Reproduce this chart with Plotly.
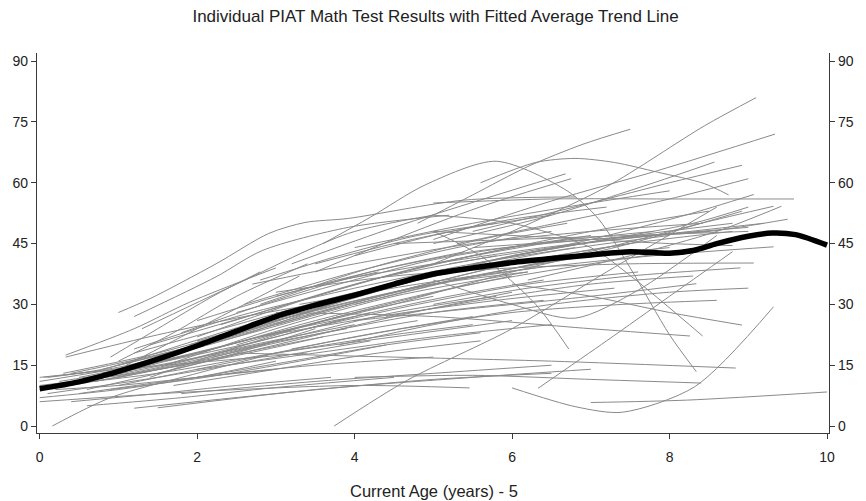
import plotly.graph_objects as go

# ---- Individual student curves (age - 5, PIAT math score) ----
student_ages = [
    [0, 1, 2, 3],
    [0, 1.5, 3, 4.5],
    [0.05, 1, 2.5, 4, 5],
    [0.1, 1.5, 3, 4.2],
    [0, 2, 4, 5.46],
    [0.16, 0.9, 2, 3],
    [0.33, 1.2, 1.9, 3],
    [0.33, 1.5, 2.6, 3.8],
    [0.2, 1.5, 3, 4.5, 6],
    [0.5, 2, 3.5, 5, 6],
    [0.4, 1.8, 3.2, 4.6],
    [0.3, 1.2, 2.6, 3.8],
    [0.5, 2, 3.5, 5],
    [0.2, 1, 2, 3],
    [0.6, 1.8, 3, 4.5],
    [0.7, 1.7, 2.8, 3.9],
    [0.1, 0.8, 1.8, 2.8],
    [0, 1, 2, 3],
    [0.25, 1.5, 3, 4.5, 5.8],
    [0.6, 1.5, 2.5, 3.5],
    [0.4, 1.5, 2.5, 3.7],
    [0, 1, 2.2, 3.4],
    [1.0, 1.4, 2.24, 2.91, 3.37, 3.92, 5.38, 6.81],
    [0.9, 1.5, 2.2, 2.8],
    [1.0, 1.7, 2.5, 3.4],
    [1.1, 1.8, 2.6, 3.3],
    [1.2, 3, 5, 6.5],
    [1.5, 3.5, 5.5, 7],
    [1.0, 2.5, 4, 5.5],
    [1.2, 2.24, 2.83, 3.92, 5.2],
    [1.3, 2.5, 3.92, 5],
    [1.5, 3, 4.5, 6],
    [1.6, 3, 4.5, 6.2],
    [1.8, 3.2, 4.6, 6],
    [1.4, 2.6, 3.8, 5],
    [1.7, 3, 4.3, 5.6],
    [1.9, 3.2, 4.5, 6, 7.2],
    [2.0, 3.5, 5, 6.5],
    [0.9, 2, 3, 4],
    [1.2, 2.5, 4, 5.5, 6.8],
    [2.0, 3.5, 5, 6.7],
    [1.8, 3.5, 5, 6.5],
    [3.6, 4.2, 4.9, 5.8, 6.7, 7.1, 7.5, 8.0, 8.34],
    [3.74, 4.67, 6, 7.2, 8.6],
    [2.5, 4, 5.5, 7, 8.4],
    [2.8, 4.2, 5.6, 6.7],
    [3.0, 4.5, 6, 7.5, 8.8],
    [3.2, 4.5, 5.59, 6.68],
    [3.5, 4.5, 5.59, 6.75],
    [2.7, 4, 5.5, 7, 8.42],
    [3.0, 4.5, 6, 7.5, 9.07],
    [3.3, 4.8, 6.3, 7.8, 9.32],
    [4.0, 5.5, 7, 8.4],
    [2.5, 4.5, 6.5, 8.84],
    [3.0, 5, 7, 8.26],
    [5.0, 6, 7, 7.52, 8.42],
    [4.0, 5.5, 7, 8.34],
    [2.8, 4.3, 5.8, 7.3],
    [3.8, 5, 6.5, 8, 9],
    [4.2, 5.5, 7, 8.5],
    [4.5, 6, 7.5, 8.92],
    [2.6, 3.8, 5, 6.2],
    [3.0, 4.3, 5.5],
    [4.0, 5.5, 7, 8],
    [4.8, 5.5, 6.2, 6.9, 7.5],
    [5.6, 6.3, 6.8, 7.3, 7.85, 8.44, 8.75],
    [5.0, 6, 7.2, 8.44, 9.1],
    [5.0, 6.5, 7.85, 9.34],
    [5.0, 6.5, 7.8, 8.57],
    [5.5, 7, 8, 8.92],
    [5.3, 6.8, 8, 9],
    [5.0, 6.5, 8, 9.58],
    [5.5, 7, 8.2, 9.07],
    [6.0, 7.2, 8.3, 9],
    [5.8, 7.2, 8.4, 9.32],
    [6.2, 7.5, 8.6, 9.42],
    [6.0, 7, 8, 8.92],
    [6.0, 6.81, 7.4, 8.32, 9.32],
    [6.33, 7.2, 8, 8.8],
    [7.0, 8.23, 10],
    [5.0, 6, 7, 8, 8.8],
    [4.5, 6, 7.5, 9],
    [5.0, 5.6, 6.3, 6.72],
    [5.0, 6, 6.8, 7.6, 8.6],
    [0.3, 1.5, 3, 4.5, 5.5],
    [0.8, 2, 3.5, 5, 6.3],
    [1.0, 2.5, 4, 5.5, 7],
    [1.5, 3, 4.5, 6, 7.5],
    [2.0, 3.5, 5, 6.5, 8],
    [2.3, 3.5, 4.8, 6, 7],
    [0.5, 1.8, 3, 4.2],
    [1.2, 2.5, 3.8, 5],
    [2.5, 3.8, 5, 6.3, 7.8],
    [3.0, 4.2, 5.5, 7, 8.5],
    [0.2, 1.4, 2.7, 4],
    [1.0, 2.3, 3.6, 4.8],
    [2.2, 3.6, 5, 6.4],
    [3.4, 4.8, 6.2, 7.6],
    [4.0, 5.3, 6.6, 8],
    [1.8, 3, 4.2, 5.4],
    [2.6, 4, 5.3, 6.5],
    [4.5, 5.8, 7.2, 8.8],
    [5.2, 6.5, 7.8, 9.2],
    [5.5, 7, 8.5, 9.5],
    [0, 1.2, 2.4, 3.6],
    [0.9, 2.1, 3.3, 4.4],
    [2.0, 3.2, 4.4, 5.6],
    [3.2, 4.6, 6, 7.4, 8.6],
    [4.4, 5.6, 7, 8.3],
    [1.4, 2.8, 4.2, 5.8],
    [3.8, 5, 6.4, 7.8, 9],
    [2.0, 3.2, 4.3],
    [5.0, 6.2, 7.5, 8.9],
    [1.6, 2.8, 4, 5.2, 6.4],
    [3.5, 4.5, 5.5, 6.5],
    [4.0, 5, 6, 7.2],
    [2.8, 3.8, 4.8, 5.8],
]
student_scores = [
    [9, 12, 16, 21],
    [11, 16, 23, 30],
    [12, 14.5, 22, 32, 38],
    [8, 12, 17, 21],
    [6, 8.5, 10, 9.4],
    [0, 7, 13, 18],
    [17.5, 24, 30.5, 39],
    [17, 22.5, 27, 31],
    [10, 13, 18, 22, 26],
    [12, 18, 26, 33, 37],
    [13, 19, 27, 35],
    [10, 14, 21, 27],
    [8, 12, 15, 17],
    [9, 10, 12, 14],
    [5, 7, 9.5, 12],
    [11, 15, 20, 24],
    [12, 14, 20, 26],
    [7, 9, 12, 16],
    [11, 15, 21, 28, 32],
    [9, 13, 18, 24],
    [6, 8, 10, 12],
    [12, 14, 16, 18],
    [28, 31.4, 40, 47.5, 50.2, 51.2, 55.7, 56.5],
    [17, 24, 32, 38],
    [16, 23, 32, 40],
    [15, 22, 30, 37],
    [4.4, 8, 11.5, 13],
    [4.5, 9, 12, 14],
    [10, 16, 22, 27],
    [27, 36.8, 43.3, 49, 52],
    [24, 35, 47.5, 52],
    [13, 20, 27, 33],
    [15, 24, 32, 38],
    [18, 27, 35, 41],
    [12, 20, 27, 32],
    [10, 14, 18, 21],
    [20, 28, 35, 42, 46],
    [14, 18, 22, 25],
    [13, 18, 23, 27],
    [19, 27, 34, 40, 44],
    [22, 32, 40, 46],
    [8, 11, 13, 15],
    [45, 51.5, 59.5, 65.3, 58, 51, 39, 22.5, 13.4],
    [0, 11.3, 24, 38, 54],
    [20, 28, 35, 40, 44],
    [30, 39, 46, 50],
    [25, 33, 40, 45, 48],
    [40, 49, 55.7, 62.2],
    [38, 46, 54, 61],
    [35, 40, 45, 48, 50],
    [33, 37, 39, 40, 40.2],
    [30, 35, 39, 42, 44.2],
    [12, 12.5, 11.5, 10.6],
    [18, 17, 16, 14.3],
    [28, 27, 24, 22.2],
    [52, 50, 44, 36.8, 22.2],
    [26, 29, 32, 35.1],
    [22, 27, 31, 34],
    [20, 25, 30, 33, 34],
    [36, 42, 48, 53],
    [30, 38, 45, 53],
    [24, 30, 35, 38],
    [18, 22, 25],
    [44, 50, 55, 58],
    [50, 57, 64, 69.5, 73.2],
    [60, 65, 66, 65, 62.6, 59.8, 57],
    [40, 48, 59, 74, 81],
    [46, 55.5, 63, 72],
    [45, 52, 60, 65.1],
    [48, 55, 60, 64.3],
    [45, 51, 56, 61],
    [55, 56, 56, 56],
    [40, 46, 52, 57.1],
    [42, 46, 50, 54],
    [38, 44, 50, 54.2],
    [36, 42, 48, 54.2],
    [35, 32, 28, 24.9],
    [9.4, 4.75, 3.4, 9.7, 29.4],
    [9.3, 21, 32, 43],
    [5.8, 6.4, 8.4],
    [48, 47, 46, 45, 44.5],
    [45, 46, 47, 48],
    [48, 42, 30, 19],
    [36, 30, 26.6, 33.5, 47],
    [13, 18, 26, 33, 37],
    [14, 20, 28, 35, 39],
    [15, 22, 30, 37, 42],
    [17, 25, 33, 40, 45],
    [21, 29, 37, 43, 47],
    [25, 32, 39, 44, 47],
    [11, 16, 22, 28],
    [18, 25, 32, 37],
    [28, 35, 41, 45, 48],
    [32, 38, 43, 46, 48],
    [10, 14, 20, 25],
    [12, 17, 22, 26],
    [17, 23, 28, 31],
    [24, 30, 35, 38],
    [30, 36, 41, 44],
    [23, 31, 38, 43],
    [30, 38, 44, 48],
    [35, 41, 46, 50],
    [40, 44, 47, 50],
    [44, 46, 48, 51],
    [10, 13, 17, 22],
    [9, 12, 16, 20],
    [12, 16, 20, 23],
    [19, 24, 28, 30, 31],
    [27, 31, 35, 37],
    [20, 28, 36, 42],
    [36, 40, 44, 47, 49],
    [26, 33, 38],
    [30, 34, 37, 39],
    [16, 21, 27, 32, 36],
    [40, 45, 49, 52],
    [42, 47, 51, 54],
    [36, 42, 47, 50],
]

# ---- Fitted average trend line ----
trend_ages = [0, 0.5, 1, 1.5, 2, 2.5, 3, 3.5, 4, 4.5, 5, 5.5, 6, 6.5, 7, 7.5,
              8, 8.3, 8.6, 9, 9.3, 9.6, 10]
trend_scores = [9.2, 10.9, 13.5, 16.5, 19.8, 23.4, 27, 29.8, 32.3, 35, 37.5, 39,
                40.3, 41.3, 42.2, 43, 42.6, 43.3, 45, 46.8, 47.6, 47.2, 44.6]

x_ticks = [0, 2, 4, 6, 8, 10]
y_ticks = [0, 15, 30, 45, 60, 75, 90]

title_text = "Individual PIAT Math Test Results with Fitted Average Trend Line"
x_title = "Current Age (years) - 5"

FONT = "Arial, 'Liberation Sans', sans-serif"
AX = "#3a3a3a"

fig = go.Figure()
for a, s in zip(student_ages, student_scores):
    fig.add_trace(go.Scatter(
        x=a, y=s, mode="lines",
        line=dict(color="#8a8a8a", width=1, shape="spline", smoothing=0.8),
        hoverinfo="skip", showlegend=False))

fig.add_trace(go.Scatter(
    x=trend_ages, y=trend_scores, mode="lines", yaxis="y2",
    line=dict(color="black", width=5.5, shape="spline", smoothing=0.8),
    showlegend=False))

y_range = [-1.72, 92.0]
axis_common = dict(
    showgrid=False, zeroline=False, showline=True, linecolor=AX, linewidth=1.3,
    ticks="outside", ticklen=5, tickwidth=1, tickcolor=AX,
    tickfont=dict(family=FONT, size=14, color="#222"),
)

fig.update_layout(
    width=866, height=501,
    margin=dict(l=36, r=30, t=53, b=68),
    paper_bgcolor="white", plot_bgcolor="white",
    title=dict(text=title_text, x=0.503, xanchor="center", y=0.968, yanchor="middle",
               font=dict(family=FONT, size=17, color="#222")),
    xaxis=dict(range=[-0.034, 10.025], tickvals=x_ticks, ticklabelstandoff=6,
               **axis_common),
    yaxis=dict(range=y_range, tickvals=y_ticks, **axis_common),
    yaxis2=dict(range=y_range, tickvals=y_ticks, overlaying="y", side="right",
                **axis_common),
    annotations=[dict(text=x_title, xref="paper", yref="paper", x=0.501, y=-0.152,
                      xanchor="center", yanchor="middle", showarrow=False,
                      font=dict(family=FONT, size=16.5, color="#222"))],
)

fig.write_html("out.html")
